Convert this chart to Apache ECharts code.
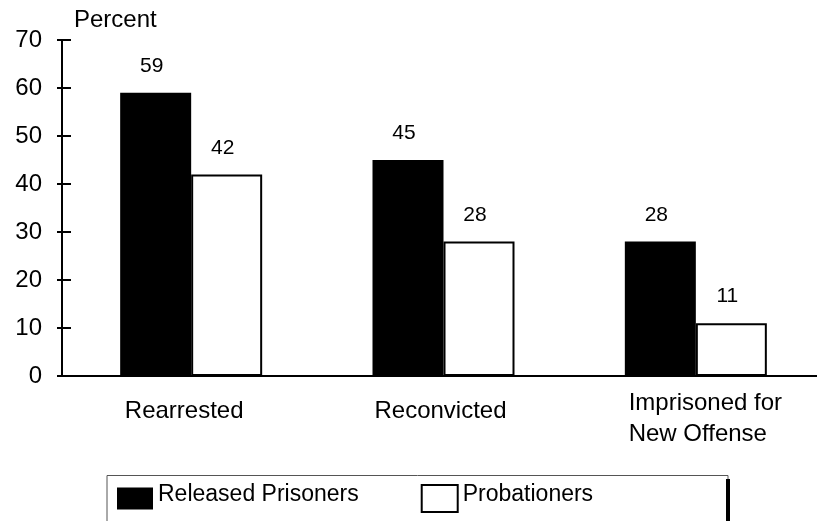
<!DOCTYPE html>
<html>
<head>
<meta charset="utf-8">
<script src="https://cdn.jsdelivr.net/npm/echarts@6/dist/echarts.min.js"></script>
<style>html,body{margin:0;padding:0;background:#fff;overflow:hidden;}#c{width:822px;height:521px;}</style>
</head>
<body>
<div id="c"></div>
<script>
var categories = ['Rearrested', 'Reconvicted', 'Imprisoned for\nNew Offense'];
var releasedPrisoners = [59, 45, 28];
var probationers = [42, 28, 11];
var seriesNames = ['Released Prisoners', 'Probationers'];
var yTicks = {min: 0, max: 70, interval: 10};
var yName = 'Percent';

var FONT = '"Liberation Sans", Arial, Helvetica, sans-serif';
var chart = echarts.init(document.getElementById('c'), null, {renderer: 'canvas'});

function catLabel(v) {
  var lines = v.split('\n');
  if (lines.length > 1) {
    return lines.map(function (l) { return '{m|' + l + '}'; }).join('\n');
  }
  return (v === 'Rearrested' ? '{a|' : '{b|') + v + '}';
}

chart.setOption({
  animation: false,
  backgroundColor: '#fff',
  title: {
    text: yName, left: 74, top: 8, padding: 0,
    textStyle: {fontFamily: FONT, fontSize: 24, fontWeight: 'normal', color: '#000'}
  },
  grid: {left: 65, top: 40, height: 336, right: 0, containLabel: false},
  xAxis: {
    type: 'category',
    data: categories,
    axisLine: {show: true, lineStyle: {color: '#000', width: 2}},
    axisTick: {show: false},
    axisLabel: {
      interval: 0, margin: 12, color: '#000', fontFamily: FONT, fontSize: 24,
      formatter: catLabel,
      rich: {
        a: {fontFamily: FONT, fontSize: 24, color: '#000', lineHeight: 47, padding: [0, 14, 0, 0]},
        b: {fontFamily: FONT, fontSize: 24, color: '#000', lineHeight: 47, padding: [0, 6, 0, 0]},
        m: {fontFamily: FONT, fontSize: 24, color: '#000', lineHeight: 31, align: 'left', padding: [0, 0, 0, 19]}
      }
    },
    splitLine: {show: false}
  },
  yAxis: [{
    type: 'value', min: yTicks.min, max: yTicks.max, interval: yTicks.interval,
    position: 'left', offset: 3,
    axisLine: {show: true, lineStyle: {color: '#000', width: 2}},
    axisTick: {show: true, inside: false, length: 5, lineStyle: {color: '#000', width: 2}},
    axisLabel: {margin: 20, color: '#000', fontFamily: FONT, fontSize: 24},
    splitLine: {show: false}
  }, {
    type: 'value', min: yTicks.min, max: yTicks.max, interval: yTicks.interval,
    position: 'left', offset: 3,
    axisLine: {show: false},
    axisTick: {show: true, inside: true, length: 9, lineStyle: {color: '#000', width: 2}},
    axisLabel: {show: false},
    splitLine: {show: false}
  }],
  legend: {
    left: 117, top: 483, padding: 0,
    itemWidth: 36, itemHeight: 27, itemGap: 62,
    formatter: '{t|{name}}',
    textStyle: {
      fontFamily: FONT, fontSize: 23, color: '#000',
      rich: {t: {fontFamily: FONT, fontSize: 23, color: '#000', padding: [0, 0, 8, 0]}}
    },
    data: [
      {name: seriesNames[0], icon: 'path://M0,0H36V22H0Z', itemStyle: {color: '#000', borderWidth: 0}},
      {name: seriesNames[1], icon: 'rect', itemStyle: {color: '#fff', borderColor: '#000', borderWidth: 2}}
    ]
  },
  graphic: [
    {type: 'polyline', shape: {points: [[107, 530], [107, 475.5], [728, 475.5], [728, 479]]}, style: {stroke: '#555', lineWidth: 1, fill: null}, silent: true},
    {type: 'line', shape: {x1: 728, y1: 479, x2: 728, y2: 530}, style: {stroke: '#000', lineWidth: 4}, silent: true}
  ],
  series: [{
    name: seriesNames[0], type: 'bar', data: releasedPrisoners,
    barWidth: 71, barGap: '0%',
    itemStyle: {color: '#000'},
    label: {show: true, position: 'top', distance: 16, offset: [-4, 0], color: '#000', fontFamily: FONT, fontSize: 21}
  }, {
    name: seriesNames[1], type: 'bar', data: probationers,
    barWidth: 71, barGap: '0%',
    itemStyle: {color: '#fff', borderColor: '#000', borderWidth: 2},
    label: {show: true, position: 'top', distance: 16, offset: [-4, 0], color: '#000', fontFamily: FONT, fontSize: 21}
  }]
});
</script>
</body>
</html>
